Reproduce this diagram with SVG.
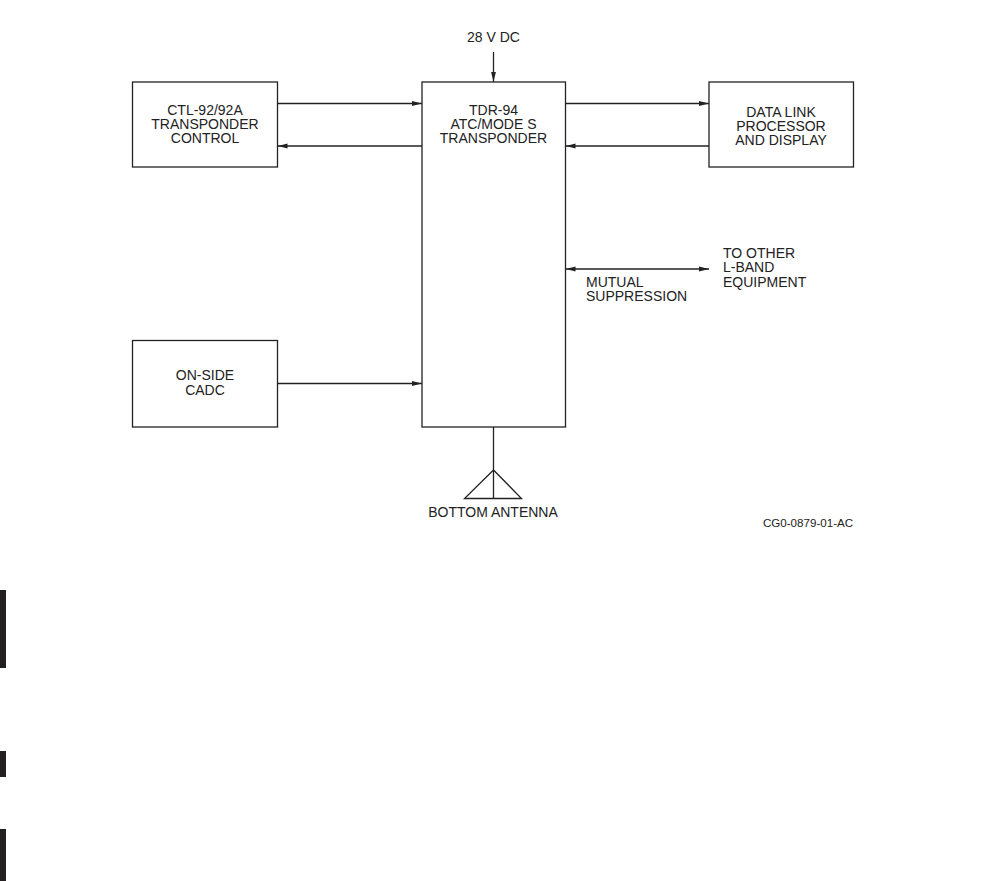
<svg xmlns="http://www.w3.org/2000/svg" width="1002" height="881" viewBox="0 0 1002 881">
<style>
.box{fill:none;stroke:#222;stroke-width:1.3}
.ln{fill:none;stroke:#222;stroke-width:1.3}
text{font-family:"Liberation Sans",Arial,sans-serif;font-size:14px;fill:#222}
.c{text-anchor:middle}
</style>
<defs>
<marker id="ah" viewBox="0 0 10 6" refX="10" refY="3" markerWidth="10" markerHeight="6" markerUnits="userSpaceOnUse" orient="auto-start-reverse">
<path d="M0,0.6 L10,3 L0,5.4 Z" fill="#222"/>
</marker>
</defs>
<rect width="1002" height="881" fill="#fff"/>
<g id="bars" fill="#231f20">
<rect x="0" y="590" width="6" height="78"/>
<rect x="0" y="751" width="6" height="26"/>
<rect x="0" y="829" width="6" height="52"/>
</g>
<g id="ctl">
<rect class="box" x="132.5" y="82" width="145" height="85"/>
<text class="c" x="205" y="115">CTL-92/92A</text>
<text class="c" x="205" y="129">TRANSPONDER</text>
<text class="c" x="205" y="143">CONTROL</text>
</g>
<g id="tdr">
<rect class="box" x="422" y="82" width="143.5" height="345"/>
<text class="c" x="493.5" y="115">TDR-94</text>
<text class="c" x="493.5" y="129">ATC/MODE S</text>
<text class="c" x="493.5" y="143">TRANSPONDER</text>
</g>
<g id="dlp">
<rect class="box" x="709" y="82" width="144.5" height="85"/>
<text class="c" x="781" y="116.5">DATA LINK</text>
<text class="c" x="781" y="130.5">PROCESSOR</text>
<text class="c" x="781" y="144.5">AND DISPLAY</text>
</g>
<g id="cadc">
<rect class="box" x="132.5" y="340.5" width="145" height="86.5"/>
<text class="c" x="205" y="380">ON-SIDE</text>
<text class="c" x="205" y="394.5">CADC</text>
</g>
<g id="power">
<text class="c" x="493.5" y="41.5">28 V DC</text>
</g>
<g id="antenna">
<path class="ln" d="M493.5,427 V498.5 M493.5,470 L464.5,498.5 H521.5 Z"/>
<text class="c" x="493" y="516.5">BOTTOM ANTENNA</text>
</g>
<g id="lband">
<text x="586" y="286.5">MUTUAL</text>
<text x="586" y="300.5">SUPPRESSION</text>
<text x="723" y="258">TO OTHER</text>
<text x="723" y="272">L-BAND</text>
<text x="723" y="286.5">EQUIPMENT</text>
</g>
<g id="connectors">
<line class="ln" x1="493.5" y1="52" x2="493.5" y2="82" marker-end="url(#ah)"/>
<line class="ln" x1="277.5" y1="103.5" x2="422" y2="103.5" marker-end="url(#ah)"/>
<line class="ln" x1="422" y1="146" x2="277.5" y2="146" marker-end="url(#ah)"/>
<line class="ln" x1="565.5" y1="103.5" x2="709" y2="103.5" marker-end="url(#ah)"/>
<line class="ln" x1="709" y1="146" x2="565.5" y2="146" marker-end="url(#ah)"/>
<line class="ln" x1="565.5" y1="269" x2="709" y2="269" marker-start="url(#ah)" marker-end="url(#ah)"/>
<line class="ln" x1="277.5" y1="383.5" x2="422" y2="383.5" marker-end="url(#ah)"/>
</g>
<text x="808" y="527" class="c" style="font-size:11.6px">CG0-0879-01-AC</text>
</svg>
